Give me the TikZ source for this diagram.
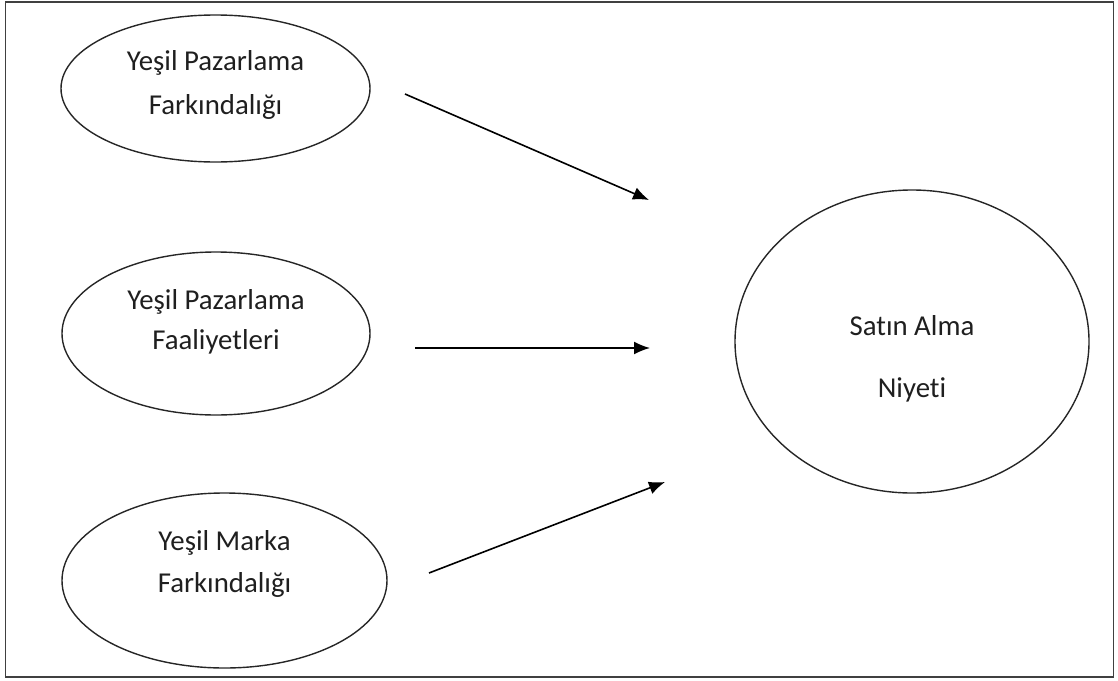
\documentclass[tikz,border=0pt]{standalone}
\usepackage{fontspec}
\setmainfont[Ligatures=NoCommon]{Carlito}
\usetikzlibrary{shapes.geometric, arrows.meta}
\tikzstyle{oval} = [ellipse, draw=black!85, line width=0.7pt, inner sep=0pt]
\tikzstyle{ovaltext} = [align=center, font=\fontsize{14.4}{20}\selectfont, text=black!88]
\tikzstyle{arrow} = [line width=0.8pt, -{Latex[length=8pt, width=6.5pt]}]
\tikzstyle{frame} = [draw=black!75, line width=0.85pt]

\begin{document}
\begin{tikzpicture}[x=0.5pt, y=-0.5pt]
                \useasboundingbox (0,0) rectangle (1118,680);
                \draw [frame] (5.5,2) rectangle (1113.5,677);

                % Nodes
                \node (ypfark) [oval, minimum width=154.5pt, minimum height=73.5pt,
                    label={[ovaltext, yshift=1.75pt]center:{Yeşil Pazarlama\\[2pt]Farkındalığı}}] at (215.5,88.5) {};
                \node (ypfaal) [oval, minimum width=154pt, minimum height=81.5pt,
                    label={[ovaltext, yshift=5.75pt]center:{Yeşil Pazarlama\\Faaliyetleri}}] at (216,333.5) {};
                \node (ymfark) [oval, minimum width=162.5pt, minimum height=87.5pt,
                    label={[ovaltext, yshift=8.25pt]center:{Yeşil Marka\\[1pt]Farkındalığı}}] at (224.5,580.5) {};
                \node (satin) [oval, minimum width=177pt, minimum height=151.5pt,
                    label={[ovaltext, yshift=-8.75pt]center:{Satın Alma\\[11pt]Niyeti}}] at (912,341.5) {};

                % Arrow ends
                \coordinate (ypfark-out) at (405,94);
                \coordinate (ypfaal-out) at (415,348);
                \coordinate (ymfark-out) at (429,573);
                \coordinate (satin-in1) at (649,200);
                \coordinate (satin-in2) at (650,348);
                \coordinate (satin-in3) at (665,482);

                % Arrows
                \draw [arrow] (ypfark-out) -- (satin-in1);
                \draw [arrow] (ypfaal-out) -- (satin-in2);
                \draw [arrow] (ymfark-out) -- (satin-in3);
            \end{tikzpicture}
\end{document}
